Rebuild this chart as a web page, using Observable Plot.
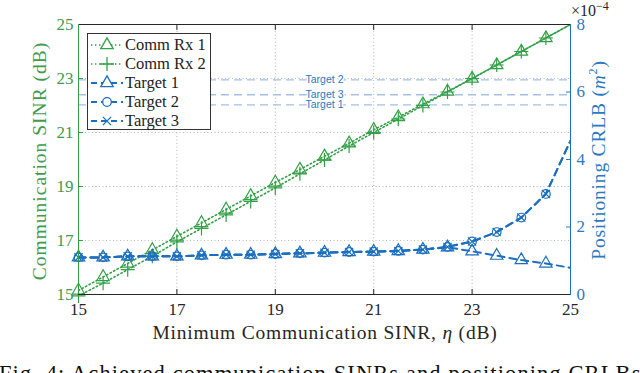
<!DOCTYPE html>
<html>
<head>
<meta charset="utf-8">
<script src="https://cdn.jsdelivr.net/npm/d3@7"></script>
<script src="https://cdn.jsdelivr.net/npm/@observablehq/plot@0.6"></script>
<style>
  html, body { margin: 0; padding: 0; background: #fff; }
  body { width: 640px; height: 373px; overflow: hidden; position: relative; font-family: "Liberation Serif", "DejaVu Serif", serif; }
  #chart { position: absolute; left: 0; top: 0; }
  .lbl { position: absolute; white-space: nowrap; font-family: "Liberation Serif", "DejaVu Serif", serif; }
</style>
</head>
<body>
<div id="chart"></div>
<script>
// ---- data ----
const sinrMin = [15, 15.5, 16, 16.5, 17, 17.5, 18, 18.5, 19, 19.5, 20, 20.5, 21, 21.5, 22, 22.5, 23, 23.5, 24, 24.5, 25];
const commRx1 = [15.15, 15.65, 16.15, 16.65, 17.15, 17.65, 18.15, 18.65, 19.15, 19.63, 20.12, 20.6, 21.1, 21.57, 22.05, 22.52, 23.0, 23.5, 24.0, 24.5, 25.0];
const commRx2 = [14.95, 15.42, 15.92, 16.42, 16.95, 17.45, 17.95, 18.45, 18.95, 19.47, 19.98, 20.5, 21.0, 21.5, 22.0, 22.5, 23.0, 23.5, 24.0, 24.5, 25.0];
// CRLB in units of 1e-4 m^2
const target1 = [1.10, 1.10, 1.13, 1.13, 1.13, 1.16, 1.18, 1.18, 1.20, 1.22, 1.24, 1.26, 1.27, 1.29, 1.33, 1.40, 1.28, 1.15, 1.02, 0.92, 0.79];
const target2 = [1.10, 1.10, 1.13, 1.13, 1.13, 1.16, 1.18, 1.18, 1.20, 1.22, 1.24, 1.26, 1.27, 1.29, 1.33, 1.41, 1.57, 1.85, 2.28, 2.98, 4.56];
const target3 = [1.10, 1.10, 1.13, 1.13, 1.13, 1.16, 1.18, 1.18, 1.20, 1.22, 1.24, 1.26, 1.27, 1.29, 1.33, 1.41, 1.57, 1.85, 2.28, 2.98, 4.56];
const thresholdNames = ["Target 2", "Target 3", "Target 1"];
const thresholdValues = [6.36, 5.92, 5.62];
const xTicks = [15, 17, 19, 21, 23, 25];
const leftTicks = [15, 17, 19, 21, 23, 25];
const rightTicks = [0, 2, 4, 6, 8];
const gridX = [17, 19, 21, 23];
const gridY = [17, 19, 21, 23];

// ---- style ----
const SERIF = "Liberation Serif, DejaVu Serif, serif";
const GREEN = "#32a046";
const GREEN_TXT = "#3f9b4d";
const BLUE = "#1c6fbe";
const BLUE_TXT = "#2a79c2";
const LIGHT = "#a3c1e8";

// right axis (0..8 x1e-4) mapped onto left scale (15..25)
const toLeft = v => 15 + v * 10 / 8;
const fromLeft = y => (y - 15) * 8 / 10;

const rows = (ys) => sinrMin.map((x, i) => ({x, y: ys[i]}));
const rx1 = rows(commRx1), rx2 = rows(commRx2);
const t1 = rows(target1).map(d => ({x: d.x, y: toLeft(d.y)}));
const t2 = rows(target2).map(d => ({x: d.x, y: toLeft(d.y)}));
const t3 = rows(target3).map(d => ({x: d.x, y: toLeft(d.y)}));
const marked = arr => arr.filter(d => d.x < 25);
const thresholds = thresholdNames.map((n, i) => ({name: n, y: toLeft(thresholdValues[i])}));

const dotted = {strokeDasharray: "1.4,2.6", strokeWidth: 1.6, stroke: GREEN, clip: true};
const dashed = {strokeDasharray: "7,5", strokeWidth: 2, stroke: BLUE, clip: true};
const mk = (color) => ({x: "x", y: "y", stroke: color, fill: "none", strokeWidth: 1.2});

const plot = Plot.plot({
  width: 640, height: 373,
  marginTop: 24, marginBottom: 79, marginLeft: 78, marginRight: 70,
  x: {domain: [15, 25]},
  y: {domain: [15, 25]},
  style: {fontFamily: SERIF, fontSize: "17px", background: "transparent", overflow: "visible"},
  marks: [
    Plot.gridX(gridX, {stroke: "#b8b8b8", strokeOpacity: 1, strokeDasharray: "1,2.5"}),
    Plot.gridY(gridY, {stroke: "#b8b8b8", strokeOpacity: 1, strokeDasharray: "1,2.5"}),
    Plot.ruleY(thresholds, {y: "y", stroke: LIGHT, strokeWidth: 1.4, strokeDasharray: "8,5"}),
    Plot.text(thresholds, {x: () => 20, y: "y", text: "name", fill: BLUE_TXT, stroke: "white", strokeWidth: 3,
      fontFamily: "Liberation Sans, DejaVu Sans, sans-serif", fontSize: 10.5}),
    Plot.line(rx1, {x: "x", y: "y", ...dotted}),
    Plot.line(rx2, {x: "x", y: "y", ...dotted}),
    Plot.dot(marked(rx1), {...mk(GREEN), symbol: "triangle", r: 4.6}),
    Plot.dot(marked(rx2), {...mk(GREEN), symbol: "plus", r: 4.6}),
    Plot.line(t1, {x: "x", y: "y", ...dashed}),
    Plot.line(t2, {x: "x", y: "y", ...dashed}),
    Plot.line(t3, {x: "x", y: "y", ...dashed}),
    Plot.dot(marked(t1), {...mk(BLUE), symbol: "triangle", r: 4.6}),
    Plot.dot(marked(t2), {...mk(BLUE), symbol: "circle", r: 4.3}),
    Plot.dot(marked(t3), {...mk(BLUE), symbol: "times", r: 3.8}),
    Plot.axisX({ticks: xTicks, tickSize: -5, tickPadding: 13, label: null, color: "#262626"}),
    Plot.axisX({anchor: "top", ticks: xTicks, tickSize: -5, tickFormat: () => "", label: null, color: "#262626"}),
    Plot.axisY({anchor: "left", ticks: leftTicks, tickSize: -5, tickPadding: 10, label: null, color: GREEN_TXT}),
    Plot.axisY({anchor: "right", ticks: rightTicks.map(toLeft), tickFormat: v => d3.format("d")(Math.round(fromLeft(v))),
      tickSize: -5, tickPadding: 11, label: null, color: BLUE_TXT}),
    Plot.ruleY([25], {stroke: "#262626", strokeWidth: 1}),
    Plot.ruleY([15], {stroke: "#262626", strokeWidth: 1}),
    Plot.ruleX([15], {stroke: GREEN, strokeWidth: 1}),
    Plot.ruleX([25], {stroke: BLUE, strokeWidth: 1})
  ]
});
document.getElementById("chart").appendChild(plot);

// ---- legend ----
const legendItems = [
  {label: "Comm Rx 1", color: GREEN, symbol: d3.symbolTriangle, dash: "1.4,2.6", r: 4.6},
  {label: "Comm Rx 2", color: GREEN, symbol: d3.symbolPlus, dash: "1.4,2.6", r: 4.6},
  {label: "Target 1", color: BLUE, symbol: d3.symbolTriangle, dash: "7,5", r: 4.6},
  {label: "Target 2", color: BLUE, symbol: d3.symbolCircle, dash: "7,5", r: 4.3},
  {label: "Target 3", color: BLUE, symbol: d3.symbolTimes, dash: "7,5", r: 3.8}
];
const lg = document.createElement("div");
lg.style.cssText = "position:absolute;left:87px;top:33px;width:124px;height:97px;border:1px solid #333;background:#fff;box-sizing:border-box;";
const ns = "http://www.w3.org/2000/svg";
legendItems.forEach((it, i) => {
  const row = document.createElement("div");
  row.style.cssText = `position:absolute;left:0;top:${1 + i * 19}px;height:19px;width:122px;`;
  const svg = document.createElementNS(ns, "svg");
  svg.setAttribute("width", 36); svg.setAttribute("height", 19);
  svg.style.cssText = "position:absolute;left:2px;top:0;";
  const line = document.createElementNS(ns, "line");
  line.setAttribute("x1", 1); line.setAttribute("x2", 33); line.setAttribute("y1", 10); line.setAttribute("y2", 10);
  line.setAttribute("stroke", it.color); line.setAttribute("stroke-width", it.dash === "7,5" ? 2 : 1.6);
  line.setAttribute("stroke-dasharray", it.dash === "7,5" ? "6,4" : it.dash);
  svg.appendChild(line);
  const p = document.createElementNS(ns, "path");
  p.setAttribute("d", d3.symbol(it.symbol, Math.PI * it.r * it.r)());
  p.setAttribute("transform", "translate(17,10)");
  p.setAttribute("fill", "white"); p.setAttribute("stroke", it.color); p.setAttribute("stroke-width", 1.3);
  svg.appendChild(p);
  row.appendChild(svg);
  const t = document.createElement("span");
  t.textContent = it.label;
  t.style.cssText = `position:absolute;left:37px;top:0;font-family:${SERIF};font-size:16.5px;line-height:19px;color:#222;white-space:nowrap;`;
  row.appendChild(t);
  lg.appendChild(row);
});
document.body.appendChild(lg);

// ---- titles ----
function addLabel(html, css) {
  const d = document.createElement("div");
  d.className = "lbl";
  d.innerHTML = html;
  d.style.cssText += css;
  document.body.appendChild(d);
  return d;
}
addLabel("Minimum Communication SINR, <i>η</i> (dB)", "left:325px;top:333px;transform:translate(-50%,-50%);font-size:19.5px;letter-spacing:0.8px;color:#262626;");
addLabel("Communication SINR (dB)", `left:40px;top:161px;transform:translate(-50%,-50%) rotate(-90deg);font-size:19.5px;letter-spacing:1px;color:${GREEN_TXT};`);
addLabel("Positioning CRLB (<i>m</i><sup style='font-size:12px'>2</sup>)", `left:598px;top:160px;transform:translate(-50%,-50%) rotate(-90deg);font-size:19.5px;letter-spacing:0.8px;color:${BLUE_TXT};`);
addLabel("×10<sup style='font-size:12px'>−4</sup>", "left:571px;top:-3px;font-size:16px;line-height:18px;color:#262626;");
addLabel("Fig. 4: Achieved communication SINRs and positioning CRLBs", "left:-1px;top:361px;font-size:22.5px;color:#111;letter-spacing:1.1px;");
</script>
</body>
</html>
